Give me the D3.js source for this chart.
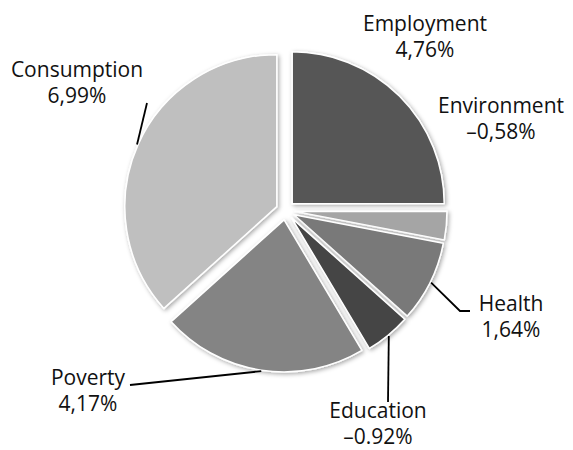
<!DOCTYPE html>
<html>
<head>
<meta charset="utf-8">
<script src="https://cdn.jsdelivr.net/npm/d3@7"></script>
<style>
  body { margin: 0; background: #fff; }
  svg text { font-family: "Open Sans", sans-serif; font-size: 21px; fill: #111; }
</style>
</head>
<body>
<div id="chart"></div>
<script>
const categories = ['Employment', 'Environment', 'Health', 'Education', 'Poverty', 'Consumption'];
const shares = [4.76, 0.58, 1.64, 0.92, 4.17, 6.99];
const valueLabels = ['4,76%', '\u20130,58%', '1,64%', '\u20130.92%', '4,17%', '6,99%'];
const fills = ['#575757', '#a5a5a5', '#797979', '#454545', '#848484', '#bfbfbf'];

const width = 573, height = 450;
const cx = 285.5, cy = 210.5, radius = 152, explode = 9.5;

// label anchors (text centre, first baseline) and leader line ends
const labelPos = {
  Employment:  { x: 425, y: 31,  line: null },
  Environment: { x: 501, y: 113, line: null },
  Health:      { x: 511, y: 311, line: [[460, 311], [470, 311]] },
  Education:   { x: 378, y: 418, line: [[388, 402]] },
  Poverty:     { x: 88,  y: 385, line: [[130, 385]] },
  Consumption: { x: 77,  y: 77,  line: [[147, 103]] }
};

const data = categories.map((c, i) => ({ name: c, value: shares[i], label: valueLabels[i], fill: fills[i] }));

const svg = d3.select('#chart')
  .append('svg')
    .attr('width', width)
    .attr('height', height);

const defs = svg.append('defs');
const shadow = defs.append('filter')
    .attr('id', 'shadow')
    .attr('x', '-20%').attr('y', '-20%')
    .attr('width', '140%').attr('height', '140%');
shadow.append('feDropShadow')
    .attr('dx', 1.5).attr('dy', 1.5)
    .attr('stdDeviation', 2)
    .attr('flood-color', '#000')
    .attr('flood-opacity', 0.35);

const pie = d3.pie()
  .value(d => d.value)
  .sort(null);

const arc = d3.arc()
  .innerRadius(0)
  .outerRadius(radius);

const arcs = pie(data);

function offset(d) {
  const a = (d.startAngle + d.endAngle) / 2;
  return [cx + explode * Math.sin(a), cy - explode * Math.cos(a)];
}

svg.append('g')
  .selectAll('path')
  .data(arcs)
  .enter()
    .append('path')
    .attr('transform', d => `translate(${offset(d)})`)
    .attr('d', arc)
    .attr('fill', d => d.data.fill)
    .attr('stroke', '#fff')
    .attr('stroke-width', 1.5)
    .attr('stroke-linejoin', 'round')
    .attr('filter', 'url(#shadow)');

// leader lines from the slice rim
arcs.forEach(d => {
  const pos = labelPos[d.data.name];
  if (!pos.line) return;
  const a = (d.startAngle + d.endAngle) / 2;
  const o = offset(d);
  const r = radius + 1;
  const start = [o[0] + r * Math.sin(a), o[1] - r * Math.cos(a)];
  svg.append('path')
    .attr('d', d3.line()([start, ...pos.line]))
    .attr('fill', 'none')
    .attr('stroke', '#000')
    .attr('stroke-width', 1.8);
});

const labels = svg.append('g')
  .selectAll('text')
  .data(arcs)
  .enter()
    .append('text')
    .attr('text-anchor', 'middle')
    .attr('x', d => labelPos[d.data.name].x)
    .attr('y', d => labelPos[d.data.name].y);

labels.append('tspan')
  .attr('x', d => labelPos[d.data.name].x)
  .text(d => d.data.name);

labels.append('tspan')
  .attr('x', d => labelPos[d.data.name].x)
  .attr('dy', 26)
  .text(d => d.data.label);
</script>
</body>
</html>
